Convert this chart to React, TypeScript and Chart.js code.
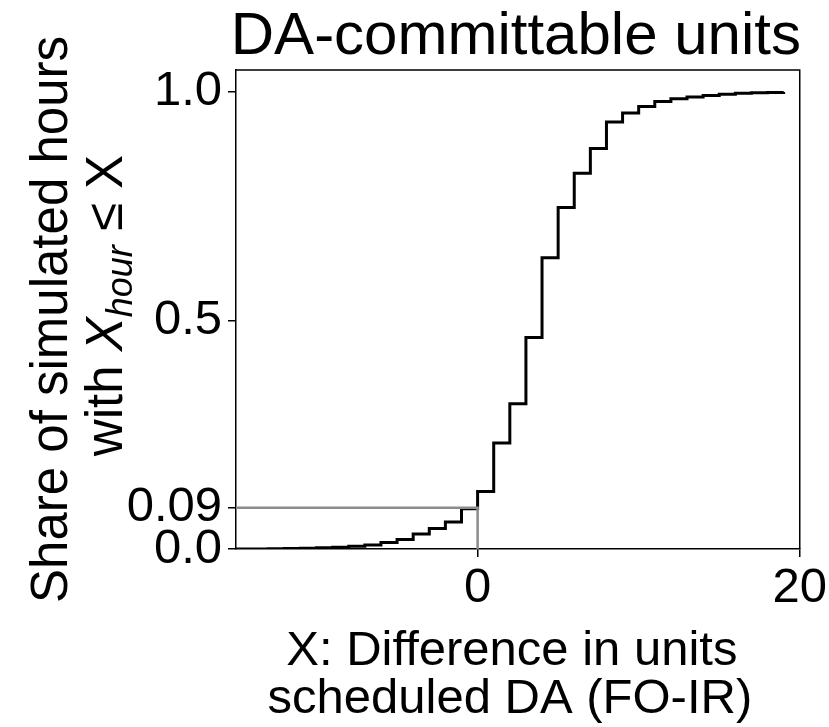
import React, { useEffect, useRef } from "react";
import { Chart, registerables } from "chart.js";

Chart.register(...registerables);

// ---- data ----
const stepX = [-15, -14, -13, -12, -11, -10, -9, -8, -7, -6, -5, -4, -3, -2, -1, 0, 1, 2, 3, 4, 5, 6, 7, 8, 9, 10, 11, 12, 13, 14, 15, 16, 17, 18, 19];
const stepY = [0.0, 0.0, 0.0005, 0.001, 0.0015, 0.0025, 0.004, 0.006, 0.009, 0.014, 0.021, 0.033, 0.045, 0.059, 0.088, 0.126, 0.232, 0.318, 0.463, 0.637, 0.747, 0.822, 0.876, 0.934, 0.954, 0.968, 0.979, 0.985, 0.989, 0.992, 0.995, 0.997, 0.998, 0.999, 1.0];
const thresholdX = [-15, 0, 0];
const thresholdY = [0.09, 0.09, 0];
const xTicks = [0, 20];
const xTickLabels = ["0", "20"];
const yTicks = [0, 0.09, 0.5, 1.0];
const yTickLabels = ["0.0", "0.09", "0.5", "1.0"];
const xRange = [-15, 20];
const yRange = [0, 1.048];
const titleText = "DA-committable units";
const xTitleLines = ["X: Difference in units", "scheduled DA (FO-IR)"];
const yTitleLine1 = "Share of simulated hours";
const yTitleLine2 = [
  { text: "with ", style: "normal", sub: false },
  { text: "X", style: "italic", sub: false },
  { text: "hour", style: "italic", sub: true },
  { text: " \u2264 X", style: "normal", sub: false },
];

const FONT = '"Liberation Sans", Arial, Helvetica, sans-serif';
const W = 829;
const H = 727;

export default function App() {
  const canvasRef = useRef<HTMLCanvasElement | null>(null);

  useEffect(() => {
    const canvas = canvasRef.current;
    if (!canvas) return;

    const textPlugin = {
      id: "customText",
      beforeDatasetsDraw(chart: any) {
        const { ctx, chartArea } = chart;
        ctx.save();
        ctx.strokeStyle = "#000";
        ctx.lineWidth = 1.5;
        ctx.beginPath();
        ctx.moveTo(chartArea.left, chartArea.top);
        ctx.lineTo(chartArea.right, chartArea.top);
        ctx.lineTo(chartArea.right, chartArea.bottom);
        ctx.stroke();
        ctx.restore();
      },
      afterDraw(chart: any) {
        const { ctx, chartArea } = chart;
        const cx = (chartArea.left + chartArea.right) / 2;
        const cy = (chartArea.top + chartArea.bottom) / 2;
        ctx.save();
        ctx.fillStyle = "#000";
        // title
        ctx.font = `60px ${FONT}`;
        ctx.textAlign = "center";
        ctx.textBaseline = "alphabetic";
        ctx.fillText(titleText, cx - 2, 54);
        // x title
        ctx.font = `49px ${FONT}`;
        ctx.fillText(xTitleLines[0], cx - 6, 665);
        ctx.fillText(xTitleLines[1], cx - 8, 713);
        // y title
        ctx.save();
        ctx.translate(67, cy + 10);
        ctx.rotate(-Math.PI / 2);
        ctx.font = `51px ${FONT}`;
        ctx.textAlign = "center";
        ctx.fillText(yTitleLine1, 0, 0);
        ctx.restore();

        ctx.save();
        ctx.translate(122, cy - 4);
        ctx.rotate(-Math.PI / 2);
        ctx.textAlign = "left";
        const segFont = (s: any) =>
          `${s.style === "italic" ? "italic " : ""}${s.sub ? 36 : 51}px ${FONT}`;
        let total = 0;
        for (const s of yTitleLine2) {
          ctx.font = segFont(s);
          total += ctx.measureText(s.text).width;
        }
        let x = -total / 2;
        for (const s of yTitleLine2) {
          ctx.font = segFont(s);
          ctx.fillText(s.text, x, s.sub ? 10 : 0);
          x += ctx.measureText(s.text).width;
        }
        ctx.restore();
        ctx.restore();
      },
    };

    const chart = new Chart(canvas, {
      type: "line",
      data: {
        datasets: [
          {
            label: "threshold",
            data: thresholdX.map((x, i) => ({ x, y: thresholdY[i] })),
            borderColor: "#8c8c8c",
            borderWidth: 2.5,
            pointRadius: 0,
            fill: false,
            tension: 0,
          },
          {
            label: "cdf",
            data: stepX.map((x, i) => ({ x, y: stepY[i] })),
            borderColor: "#000",
            borderWidth: 3,
            pointRadius: 0,
            stepped: true,
            fill: false,
          },
        ],
      },
      options: {
        animation: false,
        responsive: false,
        devicePixelRatio: 1,
        layout: { padding: { top: 70, right: 29, left: 0, bottom: 0 } },
        plugins: {
          legend: { display: false },
          tooltip: { enabled: false },
          title: { display: false },
        },
        scales: {
          x: {
            type: "linear",
            min: xRange[0],
            max: xRange[1],
            afterFit: (scale: any) => {
              scale.height = H - 549;
            },
            afterBuildTicks: (scale: any) => {
              scale.ticks = xTicks.map((v) => ({ value: v }));
            },
            ticks: {
              autoSkip: false,
              maxRotation: 0,
              color: "#000",
              padding: 2,
              font: { family: FONT, size: 49 },
              callback: (v: any) => {
                const i = xTicks.indexOf(Number(v));
                return i >= 0 ? xTickLabels[i] : "";
              },
            },
            grid: {
              drawOnChartArea: false,
              drawTicks: true,
              tickLength: 8,
              color: "#000",
              lineWidth: 1.5,
            },
            border: { display: true, color: "#000", width: 1.5 },
          },
          y: {
            type: "linear",
            min: yRange[0],
            max: yRange[1],
            afterFit: (scale: any) => {
              scale.width = 236;
            },
            afterBuildTicks: (scale: any) => {
              scale.ticks = yTicks.map((v) => ({ value: v }));
            },
            ticks: {
              autoSkip: false,
              color: "#000",
              padding: 6,
              font: { family: FONT, size: 49 },
              callback: (v: any) => {
                const i = yTicks.indexOf(Number(v));
                return i >= 0 ? yTickLabels[i] : "";
              },
            },
            grid: {
              drawOnChartArea: false,
              drawTicks: true,
              tickLength: 8,
              color: "#000",
              lineWidth: 1.5,
            },
            border: { display: true, color: "#000", width: 1.5 },
          },
        },
      },
      plugins: [textPlugin],
    });

    return () => chart.destroy();
  }, []);

  return (
    <div style={{ position: "absolute", left: 0, top: 0, width: W, height: H, background: "#fff" }}>
      <canvas ref={canvasRef} width={W} height={H} style={{ display: "block" }} />
    </div>
  );
}
